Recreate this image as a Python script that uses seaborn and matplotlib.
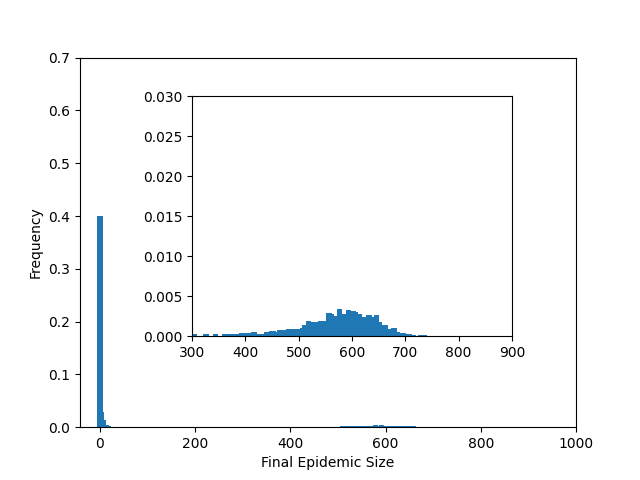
import numpy as np
import matplotlib
matplotlib.use("Agg")
import matplotlib.pyplot as plt
import seaborn as sns

# main histogram: bin edges and bar heights
main_edges = [-5.5, 5.5, 7.6, 12, 18, 24, 505, 573, 583, 587, 596, 664]
main_heights = [0.4, 0.028, 0.013, 0.005, 0.002, 0.0,
                0.0025, 0.0045, 0.0025, 0.0045, 0.0025]

# inset histogram (300-900 zoom)
inset_edges = [301, 310, 320, 331, 339, 348, 356, 368, 389, 410, 421, 435,
               445, 457, 460, 476, 503, 506, 514, 523, 536, 552, 562, 567,
               571, 582, 588, 598, 607, 611, 618, 627, 637, 641, 651, 656,
               667, 674, 684, 690, 701, 712, 720, 724, 740]
inset_heights = [0.0002, 0.0, 0.0002, 0.0, 0.0003, 0.0, 0.0002, 0.0003,
                 0.00035, 0.0005, 0.00025, 0.00045, 0.00065, 0.0005, 0.0007,
                 0.0009, 0.001, 0.0014, 0.0019, 0.00175, 0.0019, 0.0029,
                 0.0028, 0.0025, 0.0034, 0.0027, 0.00325, 0.0031, 0.003,
                 0.0028, 0.0024, 0.0026, 0.0024, 0.0026, 0.00175, 0.0014,
                 0.0009, 0.001, 0.00046, 0.00037, 0.0003, 0.00017, 0.0,
                 0.00017]

blue = "#1f77b4"


def centers(edges):
    e = np.asarray(edges, dtype=float)
    return (e[:-1] + e[1:]) / 2


fig = plt.figure(figsize=(6.4, 4.8), dpi=100)
ax = fig.add_axes([0.125, 0.11, 0.775, 0.77])
sns.histplot(x=centers(main_edges), weights=main_heights, bins=main_edges,
             stat="count", color=blue, alpha=1, linewidth=0, ax=ax)
ax.set_xlim(-42, 1000)
ax.set_ylim(0, 0.7)
ax.set_xlabel("Final Epidemic Size")
ax.set_ylabel("Frequency")

axin = fig.add_axes([0.3, 0.3, 0.5, 0.5])
sns.histplot(x=centers(inset_edges), weights=inset_heights, bins=inset_edges,
             stat="count", color=blue, alpha=1, linewidth=0, ax=axin)
axin.set_xlim(300, 900)
axin.set_ylim(0, 0.03)
axin.set_xlabel("")
axin.set_ylabel("")

fig.savefig("out.png", dpi=100)
